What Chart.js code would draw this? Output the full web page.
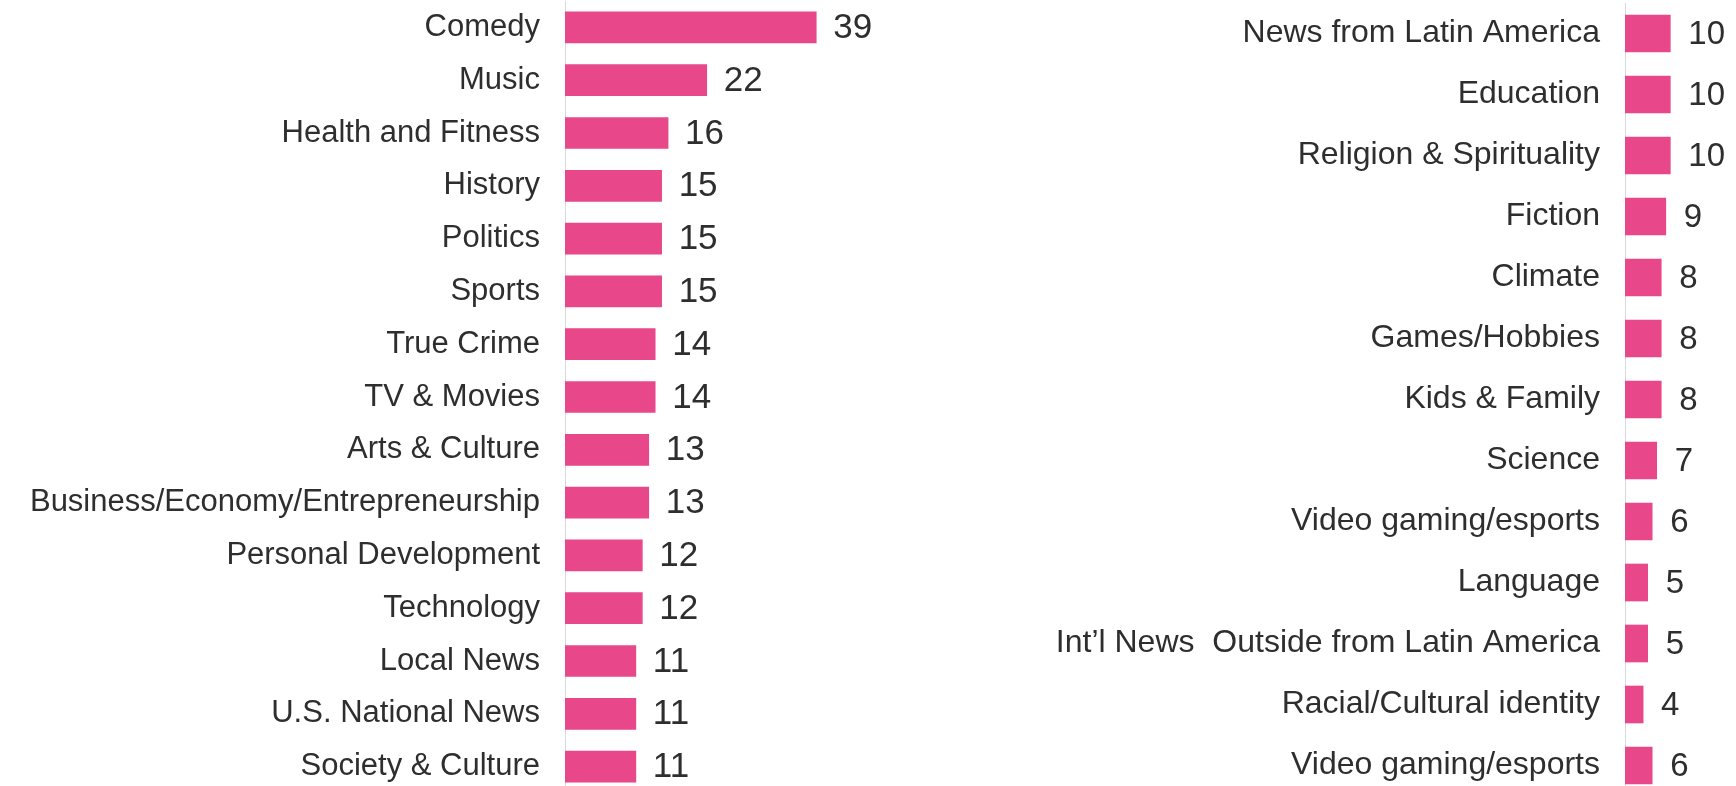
<!DOCTYPE html>
<html>
<head>
<meta charset="utf-8">
<script src="https://cdn.jsdelivr.net/npm/chart.js@4.4.1/dist/chart.umd.min.js"></script>
<style>
  html, body { margin: 0; padding: 0; background: #fff; overflow: hidden; }
  .panel { position: absolute; top: 0; height: 800px; }
  #leftWrap { left: 0; width: 900px; }
  #rightWrap { left: 900px; width: 836px; }
</style>
</head>
<body>
<div class="panel" id="leftWrap"><canvas id="leftChart"></canvas></div>
<div class="panel" id="rightWrap"><canvas id="rightChart"></canvas></div>
<script>
const leftCategories = [
  "Comedy", "Music", "Health and Fitness", "History", "Politics", "Sports",
  "True Crime", "TV & Movies", "Arts & Culture", "Business/Economy/Entrepreneurship",
  "Personal Development", "Technology", "Local News", "U.S. National News", "Society & Culture"
];
const leftValues = [39, 22, 16, 15, 15, 15, 14, 14, 13, 13, 12, 12, 11, 11, 11];

const rightCategories = [
  "News from Latin America", "Education", "Religion & Spirituality", "Fiction", "Climate",
  "Games/Hobbies", "Kids & Family", "Science", "Video gaming/esports", "Language",
  "Int\u2019l News  Outside from Latin America", "Racial/Cultural identity", "Video gaming/esports"
];
const rightValues = [10, 10, 10, 9, 8, 8, 8, 7, 6, 5, 5, 4, 6];

const PINK = "#E8478A";
const TEXT = "#2e2e2e";
const FONT = "'Liberation Sans', Arial, sans-serif";

// draws the number right of each bar
const valueLabels = {
  id: "valueLabels",
  afterDatasetsDraw(chart, args, opts) {
    const ctx = chart.ctx;
    const meta = chart.getDatasetMeta(0);
    const values = chart.data.datasets[0].data;
    ctx.save();
    ctx.fillStyle = TEXT;
    ctx.font = opts.size + "px " + FONT;
    ctx.textAlign = "left";
    ctx.textBaseline = "middle";
    meta.data.forEach((bar, i) => {
      ctx.fillText(String(values[i]), bar.x + opts.gap, bar.y + 1);
    });
    ctx.restore();
  }
};

function makeChart(id, labels, values, cfg) {
  return new Chart(document.getElementById(id), {
    type: "bar",
    data: {
      labels: labels,
      datasets: [{
        data: values,
        backgroundColor: PINK,
        borderWidth: 0,
        barThickness: cfg.barThickness
      }]
    },
    options: {
      indexAxis: "y",
      responsive: true,
      maintainAspectRatio: false,
      animation: false,
      layout: { padding: { top: cfg.padTop, bottom: cfg.padBottom, left: 0, right: 0 } },
      plugins: {
        legend: { display: false },
        tooltip: { enabled: false },
        valueLabels: { size: cfg.valueSize, gap: cfg.valueGap }
      },
      scales: {
        x: { display: false, min: 0, max: cfg.max },
        y: {
          grid: { display: false, drawTicks: false },
          border: { display: true, color: "#D9D9D9", width: 1 },
          ticks: {
            color: TEXT,
            font: { family: FONT, size: cfg.labelSize },
            padding: cfg.labelPad,
            autoSkip: false
          },
          afterFit(scale) {
            scale.width = cfg.axisWidth;
            scale.paddingTop = 0;
            scale.paddingBottom = 0;
          }
        }
      }
    },
    plugins: [valueLabels]
  });
}

makeChart("leftChart", leftCategories, leftValues, {
  max: 52, axisWidth: 565, padTop: 1, padBottom: 7,
  barThickness: 31, labelSize: 31, labelPad: 25, valueSize: 35, valueGap: 17
});

makeChart("rightChart", rightCategories, rightValues, {
  max: 24.5, axisWidth: 725, padTop: 3, padBottom: 4,
  barThickness: 37, labelSize: 32, labelPad: 25, valueSize: 33, valueGap: 18
});
</script>
</body>
</html>
